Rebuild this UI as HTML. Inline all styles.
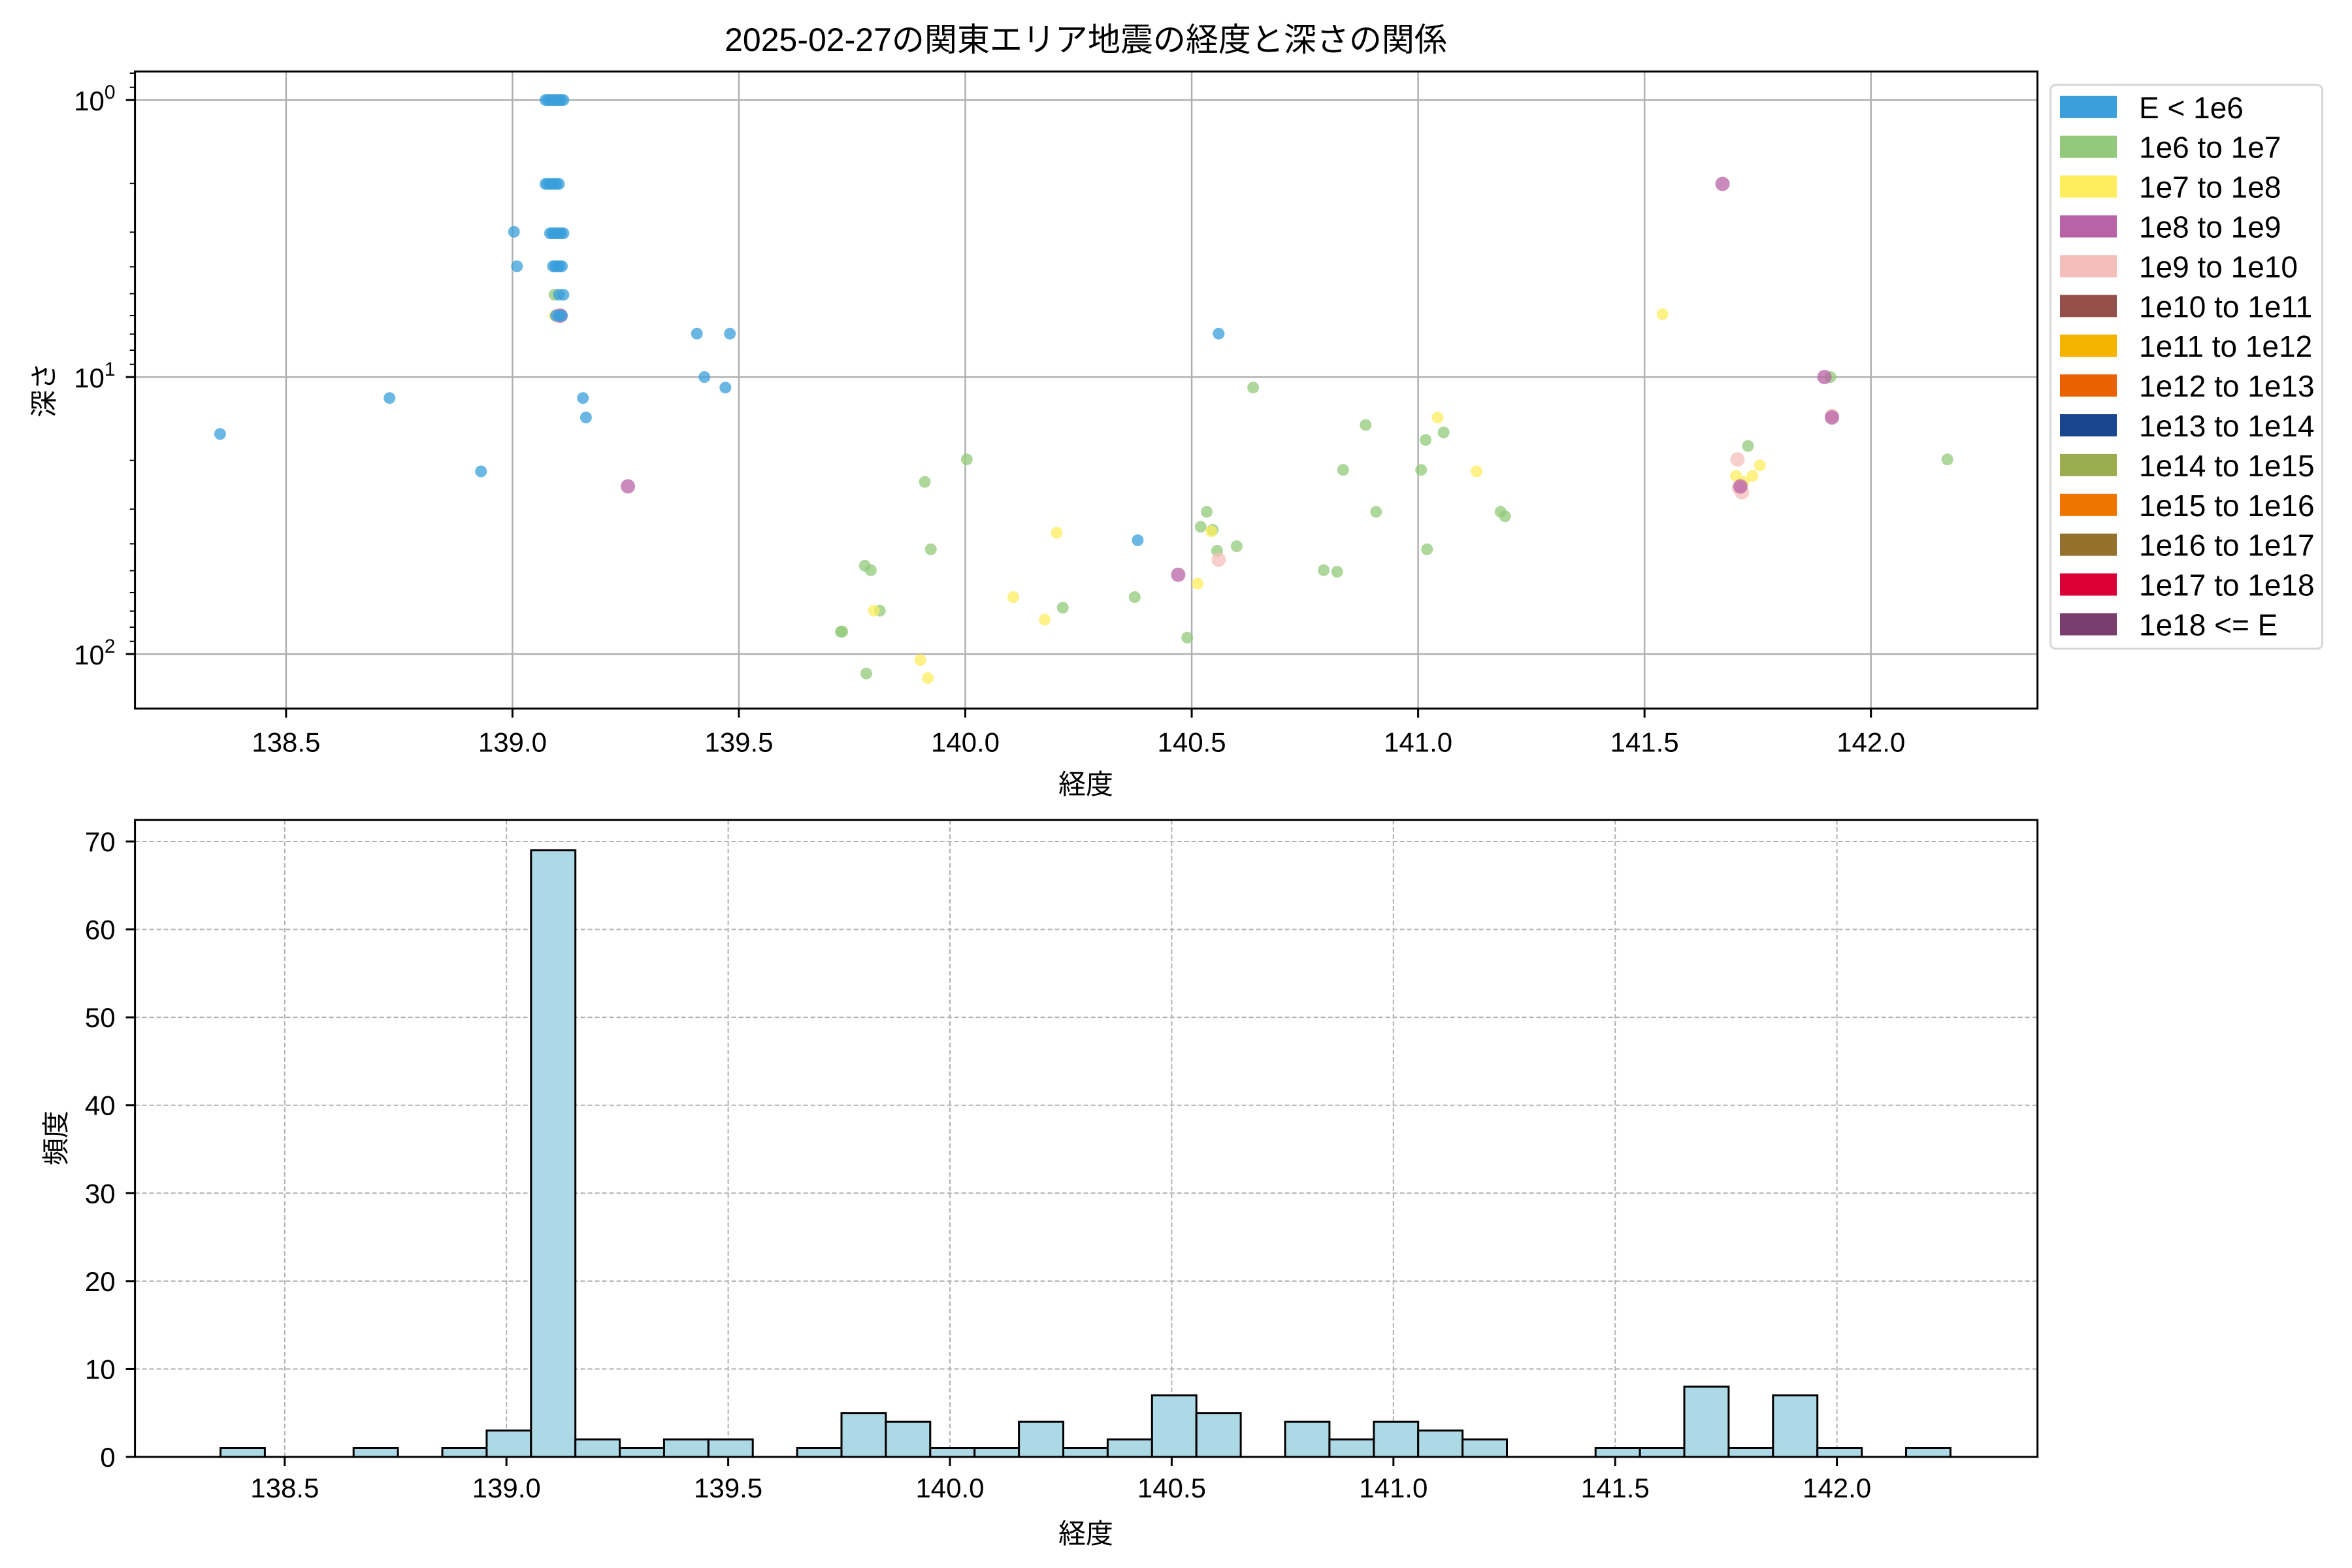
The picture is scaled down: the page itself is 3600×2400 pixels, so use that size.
<!DOCTYPE html>
<html><head><meta charset="utf-8"><style>
html,body{margin:0;padding:0;background:#fff;}
svg{display:block;font-family:"Liberation Sans","Noto Sans CJK JP",sans-serif;}
</style></head><body>
<svg id="s" width="3600" height="2400" viewBox="0 0 3600 2400" xmlns="http://www.w3.org/2000/svg"></svg>
<script>
const S=document.getElementById('s');let h='';
const cols=['#3A9FDB','#92C97A','#FEEE5F','#B863A5','#F4BFBB','#954F4A','#F5B400','#EA6100','#1A468F','#9BAC4E','#EE7500','#93702C','#DA0037','#7A3E6E'];
const labs=['E &lt; 1e6','1e6 to 1e7','1e7 to 1e8','1e8 to 1e9','1e9 to 1e10','1e10 to 1e11','1e11 to 1e12','1e12 to 1e13','1e13 to 1e14','1e14 to 1e15','1e15 to 1e16','1e16 to 1e17','1e17 to 1e18','1e18 &lt;= E'];
const L=206.6,R=3118.6,T1=109.4,B1=1084.5;
const X1=lon=>784.4+(lon-139)*693.1;
const Y1=lg=>153.1+lg*424;
h+=`<text x="1662" y="78" font-size="50" text-anchor="middle">2025-02-27の関東エリア地震の経度と深さの関係</text>`;
for(const v of [138.5,139,139.5,140,140.5,141,141.5,142]){const x=X1(v);h+=`<line x1="${x}" y1="${T1}" x2="${x}" y2="${B1}" stroke="#b0b0b0" stroke-width="2.5"/>`;
h+=`<line x1="${x}" y1="${B1}" x2="${x}" y2="${B1+14}" stroke="#000" stroke-width="3"/>`;
h+=`<text x="${x}" y="${B1+66}" font-size="42" text-anchor="middle">${v.toFixed(1)}</text>`;}
for(const d of [0,1,2]){const y=Y1(d);h+=`<line x1="${L}" y1="${y}" x2="${R}" y2="${y}" stroke="#b0b0b0" stroke-width="2.5"/>`;
h+=`<line x1="${L-14}" y1="${y}" x2="${L}" y2="${y}" stroke="#000" stroke-width="3"/>`;
h+=`<text x="${L-30}" y="${y+16}" font-size="42" text-anchor="end">10<tspan dy="-18" font-size="30">${d}</tspan></text>`;}
for(let d=-1;d<=2;d++)for(let m=2;m<=9;m++){const y=Y1(d+Math.log10(m));if(y>T1&&y<B1)h+=`<line x1="${L-8}" y1="${y}" x2="${L}" y2="${y}" stroke="#000" stroke-width="2"/>`;}
const P=[
[147,289,0],[260,265,0],[321,314,0],[343,154,0],[345,177,0],[465,222,0],[470,251,0],[484,258,0],[487,222,0],[389,265,0],[391,278,0],[759,360,0],[813,222,0],
[1149,122,3],[1161,324,3],[1217,251,3],[1222,278,3],[419,324,3],[786,383,3],
[370,196,1],[561,421,1],[577,377,1],[581,380,1],[617,321,1],[621,366,1],[645,306,1],[709,405,1],[757,398,1],[792,425,1],[801,351,1],[805,341,1],[809,353,1],[812,367,1],[825,364,1],[836,258,1],[883,380,1],[892,381,1],[896,313,1],[911,283,1],[918,341,1],[948,313,1],[951,293,1],[952,366,1],[963,288,1],[1001,341,1],[1004,344,1],[1166,297,1],[1221,251,1],[1299,306,1],[578,449,1],[587,407,1],[562,421,1],
[370,210,2],[614,440,2],[619,452,2],[676,398,2],[697,413,2],[705,355,2],[799,389,2],[808,354,2],[959,278,2],[985,314,2],[1109,209,2],[1158,317,2],[1169,317,2],[1174,310,2],[1163,321,2],[583,407,2],
[813,373,4],[1159,306,4],[1160,325,4],[1162,328,4],[1222,277,4]];
for(let x=364;x<=376;x+=1.5){P.push([x,66,0]);}
for(let x=364;x<=374;x+=1.5){P.push([x,122,0]);}
for(let x=367;x<=376;x+=1.5){P.push([x,155,0]);}
for(let x=369;x<=376;x+=1.5){P.push([x,177,0]);}
P.push([373,196,0],[376,196,0],[371,210,0],[373,210,0],[375,210,0],[372,210,4],[374,210,3]);
const ord=[1,2,4,3,0];
for(const c of ord)for(const p of P){if(p[2]!=c)continue;const x=784.4+(p[0]-342)*2.295,y=153.1+(p[1]-66)*2.292;
h+=`<circle cx="${x.toFixed(1)}" cy="${y.toFixed(1)}" r="${c==3||c==4?11:9}" fill="${cols[c]}" fill-opacity="0.75"/>`;}
h+=`<rect x="${L}" y="${T1}" width="${R-L}" height="${B1-T1}" fill="none" stroke="#000" stroke-width="3"/>`;
h+=`<text x="1662" y="1215" font-size="42" text-anchor="middle">経度</text>`;
h+=`<text transform="translate(82,597) rotate(-90)" font-size="42" text-anchor="middle">深さ</text>`;
h+=`<rect x="3138.5" y="130" width="416" height="863" rx="8" fill="#fff" stroke="#d6d6d6" stroke-width="3"/>`;
for(let i=0;i<14;i++){const y=163.8+i*60.9;h+=`<rect x="3153" y="${y-17}" width="87" height="34" fill="${cols[i]}"/>`;
h+=`<text x="3274" y="${y+17}" font-size="46">${labs[i]}</text>`;}
const T2=1255.1,B2=2230;
const X2=lon=>775.2+(lon-139)*678.8;
const Y2=v=>B2-v*13.457;
for(const v of [138.5,139,139.5,140,140.5,141,141.5,142]){const x=X2(v);h+=`<line x1="${x}" y1="${T2}" x2="${x}" y2="${B2}" stroke="#b0b0b0" stroke-width="2" stroke-dasharray="7,4"/>`;
h+=`<line x1="${x}" y1="${B2}" x2="${x}" y2="${B2+14}" stroke="#000" stroke-width="3"/>`;
h+=`<text x="${x}" y="${B2+62}" font-size="42" text-anchor="middle">${v.toFixed(1)}</text>`;}
for(let v=0;v<=70;v+=10){const y=Y2(v);if(v>0)h+=`<line x1="${L}" y1="${y}" x2="${R}" y2="${y}" stroke="#b0b0b0" stroke-width="2" stroke-dasharray="7,4"/>`;
h+=`<line x1="${L-14}" y1="${y}" x2="${L}" y2="${y}" stroke="#000" stroke-width="3"/>`;
h+=`<text x="${L-30}" y="${y+15}" font-size="42" text-anchor="end">${v}</text>`;}
const cnt=[1,0,0,1,0,1,3,69,2,1,2,2,0,1,5,4,1,1,4,1,2,7,5,0,4,2,4,3,2,0,0,1,1,8,1,7,1,0,1];
const bw=(2985.4-337.5)/39;
for(let i=0;i<39;i++){const x=337.5+i*bw,y=Y2(cnt[i]);
h+=`<rect x="${x.toFixed(1)}" y="${y.toFixed(1)}" width="${bw.toFixed(1)}" height="${(B2-y).toFixed(1)}" fill="#ADD8E6" stroke="#000" stroke-width="3"/>`;}
h+=`<rect x="${L}" y="${T2}" width="${R-L}" height="${B2-T2}" fill="none" stroke="#000" stroke-width="3"/>`;
h+=`<text x="1662" y="2362" font-size="42" text-anchor="middle">経度</text>`;
h+=`<text transform="translate(100,1742) rotate(-90)" font-size="42" text-anchor="middle">頻度</text>`;
S.innerHTML=h;
</script>
</body></html>
